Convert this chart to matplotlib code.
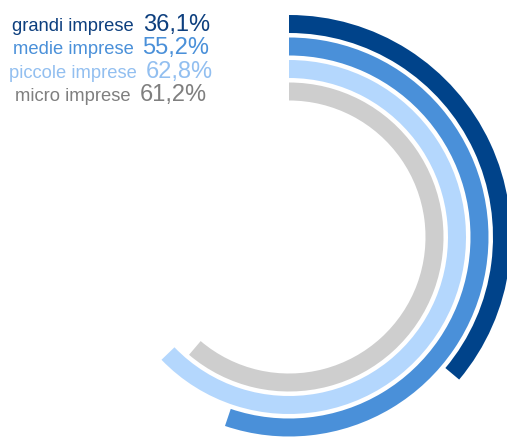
import matplotlib
matplotlib.use("Agg")
import matplotlib.pyplot as plt
from matplotlib.patches import Wedge

# data
categories = ["grandi imprese", "medie imprese", "piccole imprese", "micro imprese"]
values = [36.1, 55.2, 62.8, 61.2]
ring_colors = ["#00438a", "#4a90d9", "#b4d7fd", "#cecece"]
text_colors = ["#0d3f7e", "#4a90d9", "#92bff0", "#7f7f7f"]

W, H = 507, 438
fig = plt.figure(figsize=(W / 100, H / 100), dpi=100)
ax = fig.add_axes([0, 0, 1, 1])
ax.set_xlim(0, W)
ax.set_ylim(0, H)
ax.set_aspect("equal")
ax.axis("off")

# ring geometry (pixels)
cx, cy = 289, H - 237
r_outer = 222
band = 18
pitch = 22.5

for i, (v, col) in enumerate(zip(values, ring_colors)):
    r = r_outer - i * pitch
    ang = 360 * v / 100
    ax.add_patch(Wedge((cx, cy), r, 90 - ang, 90, width=band, facecolor=col, edgecolor="none"))

# labels: name + big percentage, centred as a pair
plt.rcParams['font.family'] = ['Liberation Sans', 'DejaVu Sans']
fig.canvas.draw()
renderer = fig.canvas.get_renderer()
baselines = [31, 54, 78, 101]
center_x = 111
gap = 9
for name, v, col, yb in zip(categories, values, text_colors, baselines):
    t1 = ax.text(0, H - yb, name, fontsize=13.2, color=col, ha="left", va="baseline")
    t2 = ax.text(0, H - yb, f"{v:.1f}%".replace(".", ","), fontsize=17, color=col,
                 ha="left", va="baseline")
    w1 = t1.get_window_extent(renderer).width
    w2 = t2.get_window_extent(renderer).width
    x0 = center_x - (w1 + gap + w2) / 2
    t1.set_x(x0)
    t2.set_x(x0 + w1 + gap)

fig.savefig("out.png", dpi=100)
